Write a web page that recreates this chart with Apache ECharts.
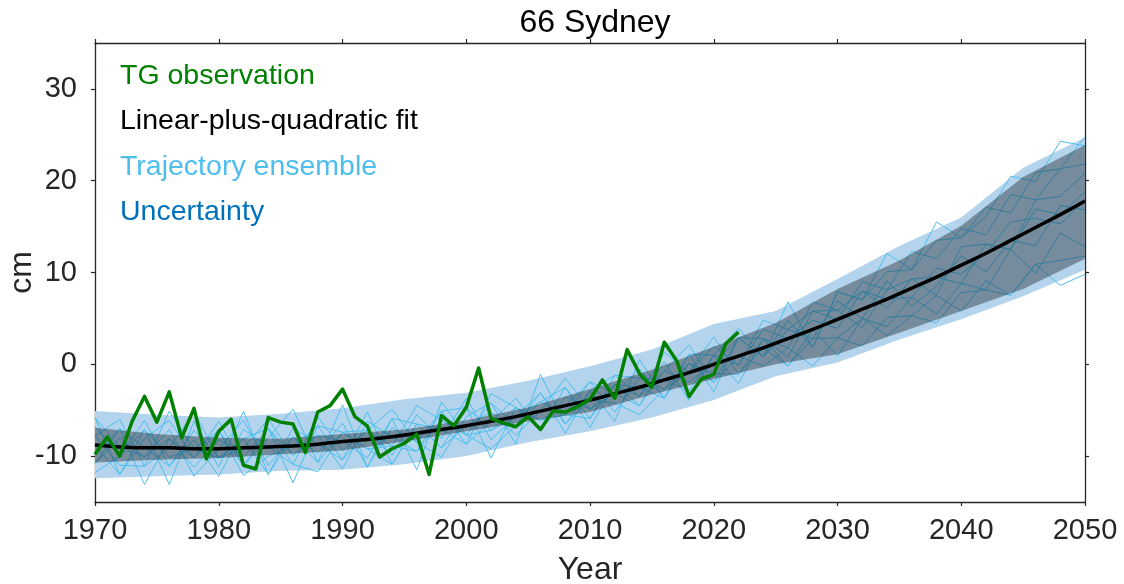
<!DOCTYPE html>
<html>
<head>
<meta charset="utf-8">
<script src="https://cdn.jsdelivr.net/npm/echarts@6/dist/echarts.min.js"></script>
<style>
  html, body { margin: 0; padding: 0; background: #ffffff; }
  #chart { width: 1124px; height: 584px; }
</style>
</head>
<body>
<div id="chart"></div>
<script>
// ---- Data ----
const chartTitle = '66 Sydney';
const xTicks = [1970, 1980, 1990, 2000, 2010, 2020, 2030, 2040, 2050];
const yTicks = [-10, 0, 10, 20, 30];

// Tide-gauge observations (cm)
const obsYears = [1970,1971,1972,1973,1974,1975,1976,1977,1978,1979,1980,1981,1982,1983,1984,1985,1986,1987,1988,1989,1990,1991,1992,1993,1994,1995,1996,1997,1998,1999,2000,2001,2002,2003,2004,2005,2006,2007,2008,2009,2010,2011,2012,2013,2014,2015,2016,2017,2018,2019,2020,2021,2022];
const obsValues = [-9.8,-7.9,-10.0,-6.2,-3.5,-6.3,-3.0,-8.0,-4.8,-10.3,-7.3,-6.0,-11.0,-11.4,-5.8,-6.3,-6.5,-9.6,-5.2,-4.5,-2.7,-5.7,-6.7,-10.1,-9.2,-8.6,-7.6,-12.0,-5.6,-6.7,-4.7,-0.4,-5.9,-6.4,-6.8,-5.7,-7.1,-5.1,-5.2,-4.6,-3.8,-1.7,-3.7,1.6,-1.0,-2.5,2.4,0.4,-3.5,-1.6,-1.1,2.3,3.5];

// Linear-plus-quadratic fit (cm), read every 2 years
const fitYears = [1970,1972,1974,1976,1978,1980,1982,1984,1986,1988,1990,1992,1994,1996,1998,2000,2002,2004,2006,2008,2010,2012,2014,2016,2018,2020,2022,2024,2026,2028,2030,2032,2034,2036,2038,2040,2042,2044,2046,2048,2050];
const fitValues = [-8.8,-9.0,-9.1,-9.1,-9.2,-9.2,-9.1,-9.0,-8.9,-8.7,-8.4,-8.2,-7.9,-7.5,-7.1,-6.7,-6.2,-5.7,-5.1,-4.5,-3.9,-3.2,-2.5,-1.7,-0.9,0.0,0.9,1.8,2.8,3.8,4.9,6.0,7.1,8.3,9.5,10.8,12.1,13.5,14.9,16.3,17.8];

// Uncertainty bands (cm), read every 5 years
const bandYears = [1970,1975,1980,1985,1990,1995,2000,2005,2010,2015,2020,2025,2030,2035,2040,2045,2050];
const outerLow  = [-12.4,-12.2,-12.0,-11.6,-11.5,-10.9,-10.0,-8.5,-7.3,-5.8,-3.9,-1.3,0.2,2.7,4.9,7.4,10.3];
const outerHigh = [-5.1,-5.5,-5.8,-5.4,-4.8,-3.8,-3.1,-1.8,-0.2,1.6,4.4,5.8,9.3,12.9,16.0,21.4,24.7];
const innerLow  = [-10.7,-10.4,-10.2,-9.8,-9.4,-8.4,-7.3,-6.2,-5.2,-3.3,-1.6,0.0,1.1,3.45,5.8,8.2,11.5];
const innerHigh = [-6.9,-7.6,-8.0,-8.1,-7.6,-7.1,-6.1,-4.7,-2.7,-0.6,1.9,4.5,8.2,11.3,15.1,20.4,23.9];

// Trajectory ensemble (cm), read every 2 years
const trajYears = [1970,1972,1974,1976,1978,1980,1982,1984,1986,1988,1990,1992,1994,1996,1998,2000,2002,2004,2006,2008,2010,2012,2014,2016,2018,2020,2022,2024,2026,2028,2030,2032,2034,2036,2038,2040,2042,2044,2046,2048,2050];
const traj1 = [-6.8,-10.0,-6.1,-11.1,-8.2,-12.2,-7.1,-9.0,-10.9,-5.7,-9.4,-7.2,-9.9,-5.5,-8.1,-3.7,-8.2,-5.7,-3.1,-7.5,-2.9,-1.2,-3.5,1.3,-0.9,2.0,-0.1,4.8,3.8,5.8,4.9,9.0,8.1,12.3,11.5,14.8,14.1,18.5,17.9,21.3,21.8];
const traj2 = [-10.8,-8.0,-10.1,-7.1,-12.2,-9.2,-6.1,-11.0,-7.9,-9.7,-6.4,-11.2,-6.9,-8.5,-5.1,-8.7,-6.2,-3.7,-7.1,-3.5,-4.9,-3.2,-0.5,-3.7,0.1,-1.0,-1.1,1.8,-0.2,2.8,2.9,2.0,5.1,5.3,4.5,7.8,8.1,7.5,10.9,11.3,11.8];
const traj3 = [-7.8,-6.0,-11.1,-9.1,-5.2,-10.2,-8.1,-12.0,-6.9,-8.7,-10.4,-7.2,-4.9,-8.5,-10.1,-5.7,-4.2,-6.7,-4.1,-2.5,-5.9,-2.2,-3.5,-0.7,2.1,-2.0,2.9,2.8,1.8,6.8,5.9,8.0,6.1,9.3,9.5,8.8,13.1,12.5,16.9,16.3,18.8];
const traj4 = [-8.8,-12.0,-8.1,-6.1,-10.2,-7.2,-11.1,-8.0,-4.9,-10.7,-7.4,-9.2,-10.9,-6.5,-7.1,-8.7,-3.2,-4.7,-6.1,-4.5,-1.9,-5.2,-1.5,-1.7,-2.9,1.0,3.9,0.8,4.8,1.8,7.9,7.0,10.1,10.3,13.5,13.8,17.1,16.5,20.9,21.3,24.8];
const traj5 = [-9.8,-7.0,-9.1,-11.1,-7.2,-10.2,-9.1,-6.0,-9.9,-7.7,-11.4,-6.2,-7.9,-9.5,-6.1,-7.7,-9.2,-6.7,-3.1,-6.5,-3.9,-4.2,-5.5,-2.7,0.1,-2.0,0.9,-0.2,1.8,-0.2,2.9,5.0,3.1,5.3,7.5,5.8,9.1,7.5,10.9,8.6,9.8];
const traj6 = [-5.8,-9.0,-10.1,-8.1,-11.2,-8.2,-10.1,-7.0,-9.9,-7.7,-8.4,-10.2,-5.9,-6.5,-9.1,-6.7,-5.2,-7.7,-5.1,-1.5,-4.9,-2.2,-2.5,-3.7,1.1,1.0,-0.1,3.8,2.8,4.8,3.9,8.0,7.1,7.3,10.5,9.8,12.1,15.5,15.9,15.3,17.8];
const traj7 = [-11.8,-10.0,-7.1,-10.1,-9.2,-7.2,-12.1,-10.0,-8.9,-6.7,-7.4,-9.2,-8.9,-4.5,-6.1,-7.7,-7.2,-4.7,-6.1,-5.5,-1.9,-3.2,-4.5,-0.7,-1.9,0.0,2.9,0.8,3.8,2.8,6.9,5.0,9.1,6.3,8.5,11.8,10.1,13.5,12.9,17.3,16.8];
const traj8 = [-7.8,-11.0,-11.1,-5.1,-9.2,-10.2,-8.1,-7.0,-10.9,-11.7,-7.4,-7.2,-8.9,-9.5,-5.1,-4.7,-7.2,-5.7,-4.1,-5.5,-5.9,-1.2,-1.5,-2.7,-0.9,3.0,-1.1,2.8,0.8,5.8,5.9,4.0,8.1,9.3,7.5,12.8,13.1,12.5,17.9,18.3,20.8];
const traj9 = [-5.8,-12.0,-7.1,-13.1,-6.2,-11.2,-5.1,-12.0,-7.9,-10.7,-4.4,-11.2,-5.9,-11.5,-4.1,-7.7,-4.2,-8.7,-1.1,-6.5,-2.9,-6.2,0.5,-3.7,1.1,-3.0,2.9,0.8,6.8,1.8,7.9,7.0,12.1,10.3,15.5,13.8,16.1,20.5,19.9,24.3,23.8];
const traj10 = [-10.8,-7.0,-13.1,-8.1,-10.2,-6.2,-11.1,-7.0,-12.9,-6.7,-10.4,-5.2,-10.9,-6.5,-9.1,-4.7,-10.2,-4.7,-7.1,-2.5,-6.9,-2.2,-4.5,0.3,-3.9,1.0,-2.1,2.8,-0.2,3.8,0.9,5.0,4.1,7.3,5.5,8.8,8.1,12.5,9.9,14.3,12.8];
const trajectories = [traj1, traj2, traj3, traj4, traj5, traj6, traj7, traj8, traj9, traj10];

// ---- Styling ----
const FONT = 'Liberation Sans, Helvetica, Arial, sans-serif';
const AX = '#262626';
const C_OBS = '#008000';
const C_FIT = '#000000';
const C_TRAJ = '#4DBEEE';
const C_UNC = '#0072BD';
const C_OUTER = '#B3D4EC';
const C_INNER = 'rgba(0,0,0,0.34)';

function zip(xs, ys) { return xs.map((x, i) => [x, ys[i]]); }

function bandSeries(name, lo, hi, fill, z) {
  return {
    type: 'custom',
    name: name,
    z: z,
    silent: true,
    animation: false,
    data: bandYears.map((yr, i) => [yr, lo[i], hi[i]]),
    encode: { x: 0, y: [1, 2] },
    renderItem: function (params, api) {
      if (params.dataIndex !== 0) return null;
      const pts = [];
      for (let i = 0; i < bandYears.length; i++) pts.push(api.coord([bandYears[i], hi[i]]));
      for (let i = bandYears.length - 1; i >= 0; i--) pts.push(api.coord([bandYears[i], lo[i]]));
      return { type: 'polygon', shape: { points: pts }, style: { fill: fill } };
    }
  };
}

const series = [];
series.push(bandSeries('Uncertainty', outerLow, outerHigh, C_OUTER, 1));
trajectories.forEach(function (t) {
  series.push({
    type: 'line', name: 'Trajectory ensemble', z: 2, silent: true,
    data: zip(trajYears, t), showSymbol: false, symbol: 'none',
    lineStyle: { color: C_TRAJ, width: 1 }, itemStyle: { color: C_TRAJ },
    animation: false
  });
});
series.push(bandSeries('Uncertainty (inner)', innerLow, innerHigh, C_INNER, 3));
series.push({
  type: 'line', name: 'Linear-plus-quadratic fit', z: 4, silent: true,
  data: zip(fitYears, fitValues), smooth: true, showSymbol: false, symbol: 'none',
  lineStyle: { color: C_FIT, width: 3.5 }, itemStyle: { color: C_FIT },
  animation: false
});
series.push({
  type: 'line', name: 'TG observation', z: 5, silent: true,
  data: zip(obsYears, obsValues), showSymbol: false, symbol: 'none',
  lineStyle: { color: C_OBS, width: 3.5, join: 'round' }, itemStyle: { color: C_OBS },
  animation: false
});

const axisLineStyle = { show: true, onZero: false, lineStyle: { color: AX, width: 1.3 } };
const tickStyle = { show: true, inside: false, length: 4, lineStyle: { color: AX, width: 1.2 } };

const option = {
  backgroundColor: '#ffffff',
  animation: false,
  title: {
    text: chartTitle,
    left: 590, top: 2, textAlign: 'center',
    textStyle: { fontFamily: FONT, fontSize: 32, fontWeight: 'normal', color: '#000000' }
  },
  legend: {
    orient: 'vertical',
    left: 110, top: 55,
    itemWidth: 0, itemHeight: 0, itemGap: 13.5,
    selectedMode: false,
    textStyle: { fontFamily: FONT, fontSize: 28.5, lineHeight: 32 },
    data: [
      { name: 'TG observation', icon: 'none', textStyle: { color: C_OBS } },
      { name: 'Linear-plus-quadratic fit', icon: 'none', textStyle: { color: '#000000' } },
      { name: 'Trajectory ensemble', icon: 'none', textStyle: { color: C_TRAJ } },
      { name: 'Uncertainty', icon: 'none', textStyle: { color: C_UNC } }
    ]
  },
  grid: { left: 95, right: 39, top: 43, bottom: 82, containLabel: false, outerBoundsMode: 'none' },
  xAxis: [
    {
      type: 'value', min: 1970, max: 2050, interval: 10, position: 'bottom',
      name: 'Year', nameLocation: 'middle', nameGap: 52,
      nameTextStyle: { fontFamily: FONT, fontSize: 32, color: AX },
      axisLine: axisLineStyle, axisTick: tickStyle, splitLine: { show: false },
      axisLabel: { fontFamily: FONT, fontSize: 29, color: AX, margin: 14,
        customValues: xTicks, formatter: function (v) { return String(v); } }
    },
    {
      type: 'value', min: 1970, max: 2050, interval: 10, position: 'top',
      axisLine: axisLineStyle, axisTick: tickStyle, splitLine: { show: false },
      axisLabel: { show: false }
    }
  ],
  yAxis: [
    {
      type: 'value', min: -15, max: 35, position: 'left',
      name: 'cm', nameLocation: 'middle', nameGap: 57, nameRotate: 90,
      nameMoveOverlap: false,
      nameTextStyle: { fontFamily: FONT, fontSize: 32, color: AX },
      axisLine: axisLineStyle,
      axisTick: Object.assign({}, tickStyle, { customValues: yTicks }),
      splitLine: { show: false },
      axisLabel: { fontFamily: FONT, fontSize: 29, color: AX, margin: 18, customValues: yTicks }
    },
    {
      type: 'value', min: -15, max: 35, position: 'right',
      axisLine: axisLineStyle,
      axisTick: Object.assign({}, tickStyle, { customValues: yTicks }),
      splitLine: { show: false },
      axisLabel: { show: false, customValues: yTicks }
    }
  ],
  series: series
};

const chart = echarts.init(document.getElementById('chart'), null, { renderer: 'canvas' });
chart.setOption(option);
</script>
</body>
</html>
